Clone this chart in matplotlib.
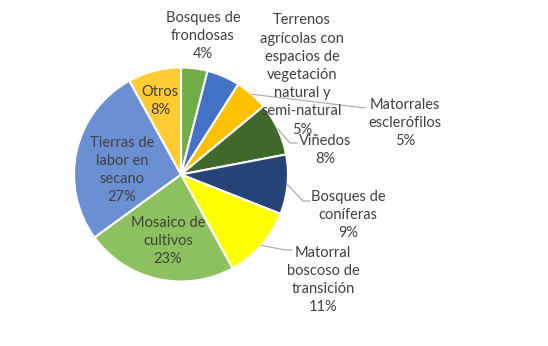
import numpy as np
import matplotlib.pyplot as plt

# data
labels = ["Bosques de\nfrondosas", "Terrenos\nagrícolas con\nespacios de\nvegetación\nnatural y\nsemi-natural",
          "Matorrales\nesclerófilos", "Viñedos", "Bosques de\nconíferas",
          "Matorral\nboscoso de\ntransición", "Mosaico de\ncultivos",
          "Tierras de\nlabor en\nsecano", "Otros"]
values = [4, 5, 5, 8, 9, 11, 23, 27, 8]
colors = ["#70AD47", "#4472C4", "#FFC000", "#43682B", "#264478",
          "#FFFF00", "#8DC05E", "#6A8FD3", "#FFCB33"]

W, H = 548, 346
cx, cy, r = 181, 346 - 174.5, 107

fig = plt.figure(figsize=(W / 100, H / 100), dpi=100)
ax = fig.add_axes([0, 0, 1, 1])

wedges, _ = ax.pie(values, colors=colors, startangle=90, counterclock=False,
                   center=(cx, cy), radius=r, frame=True,
                   wedgeprops=dict(edgecolor="white", linewidth=1.5))
ax.set_xlim(0, W)
ax.set_ylim(0, H)
ax.set_aspect("equal")
ax.axis("off")

txt = "#404040"
font = dict(family="Lato", fontsize=10.5, color=txt, ha="center", va="center",
            linespacing=1.38)

# label centres in pixel coords (x, y from top)
label_pos = [(203, 36), (302, 75), (405, 123), (325, 150), (348, 215),
             (323, 280), (168, 241), (122, 170), (160, 101)]
# leader line points (pixel coords), None = no leader
leaders = [None, None, [(365, 108)], [(290, 143), (297, 143)],
           [(303, 201), (310, 201)], [(285, 250), (292, 250)], None, None, None]

for w, lab, v, pos, ld in zip(wedges, labels, values, label_pos, leaders):
    ax.text(pos[0], H - pos[1], f"{lab}\n{v}%", **font)
    if ld:
        th = np.deg2rad((w.theta1 + w.theta2) / 2)
        xs = [cx + r * np.cos(th)] + [p[0] for p in ld]
        ys = [cy + r * np.sin(th)] + [H - p[1] for p in ld]
        ax.plot(xs, ys, color="#A6A6A6", lw=0.8)

fig.savefig("out.png", dpi=100, facecolor="white")
